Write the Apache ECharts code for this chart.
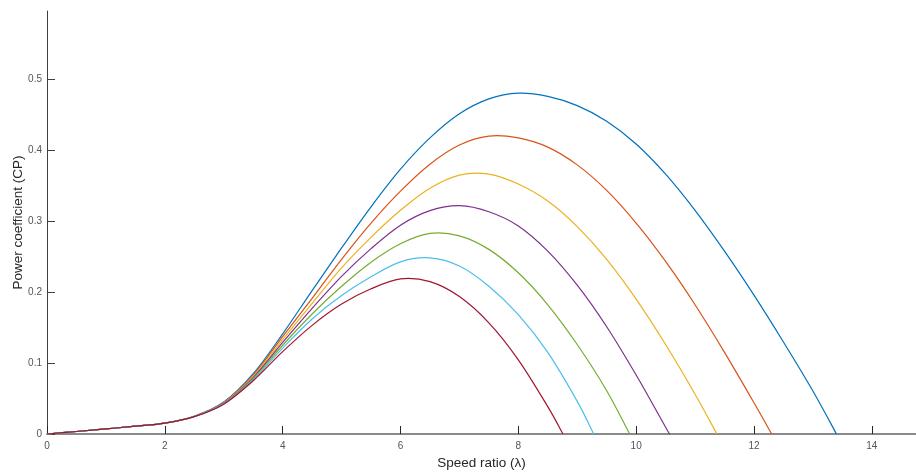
<!DOCTYPE html>
<html>
<head>
<meta charset="utf-8">
<title>Power coefficient vs speed ratio</title>
<script src="https://cdn.jsdelivr.net/npm/echarts@6/dist/echarts.min.js"></script>
<style>
  html, body { margin: 0; padding: 0; background: #fff; }
  #chart { width: 916px; height: 472px; }
</style>
</head>
<body>
<div id="chart"></div>
<script>
// speed ratio samples (lambda) shared by all curves
var speedRatio = [0, 0.5, 1, 1.5, 2, 2.5, 3, 3.5, 4, 4.5, 5, 5.5, 6, 6.5, 7, 7.5, 8, 8.5, 9, 9.5, 10, 10.5, 11, 11.5, 12, 12.5, 13];

// Cp, one array per curve (null once the curve has hit 0)
var cpCurve1 = [0, 0.0035, 0.0072, 0.011, 0.0153, 0.0250, 0.045, 0.085, 0.141, 0.202, 0.262, 0.320, 0.373, 0.417, 0.451, 0.472, 0.480, 0.4755, 0.4625, 0.4405, 0.4085, 0.366, 0.315, 0.2575, 0.1955, 0.1295, 0.0605];
var cpCurve2 = [0, 0.0035, 0.0072, 0.011, 0.0153, 0.0249, 0.0445, 0.083, 0.137, 0.191, 0.246, 0.297, 0.342, 0.380, 0.407, 0.4195, 0.417, 0.404, 0.379, 0.343, 0.297, 0.243, 0.182, 0.115, 0.044, null, null];
var cpCurve3 = [0, 0.0035, 0.0072, 0.011, 0.0153, 0.0248, 0.044, 0.081, 0.133, 0.184, 0.234, 0.277, 0.315, 0.346, 0.3645, 0.366, 0.352, 0.328, 0.292, 0.246, 0.190, 0.126, 0.056, null, null, null, null];
var cpCurve4 = [0, 0.0035, 0.0072, 0.011, 0.0153, 0.0247, 0.0435, 0.0795, 0.129, 0.177, 0.222, 0.261, 0.294, 0.3145, 0.3215, 0.313, 0.293, 0.2575, 0.2095, 0.151, 0.083, 0.0095, null, null, null, null, null];
var cpCurve5 = [0, 0.0035, 0.0072, 0.011, 0.0153, 0.0246, 0.043, 0.078, 0.125, 0.169, 0.208, 0.242, 0.268, 0.2825, 0.279, 0.260, 0.227, 0.182, 0.126, 0.061, null, null, null, null, null, null, null];
var cpCurve6 = [0, 0.0035, 0.0072, 0.011, 0.0153, 0.0245, 0.0425, 0.0765, 0.121, 0.162, 0.195, 0.2215, 0.2425, 0.248, 0.2365, 0.208, 0.168, 0.115, 0.046, null, null, null, null, null, null, null, null];
var cpCurve7 = [0, 0.0035, 0.0072, 0.011, 0.0153, 0.0244, 0.042, 0.075, 0.116, 0.153, 0.183, 0.2045, 0.2185, 0.2145, 0.1935, 0.1565, 0.1045, 0.0385, null, null, null, null, null, null, null, null, null];

// lambda where each curve comes back down to Cp = 0
var zeroCross = [13.40, 12.30, 11.37, 10.57, 9.89, 9.28, 8.757];

// tick labels
var xTicks = [0, 2, 4, 6, 8, 10, 12, 14];
var yTicks = [0, 0.1, 0.2, 0.3, 0.4, 0.5];

var curveColors = ['#0072BD', '#D95319', '#EDB120', '#7E2F8E', '#77AC30', '#4DBEEE', '#A2142F'];
var curves = [cpCurve1, cpCurve2, cpCurve3, cpCurve4, cpCurve5, cpCurve6, cpCurve7];

function toPoints(vals, end) {
    var pts = [];
    vals.forEach(function (v, i) {
        if (v !== null) pts.push([speedRatio[i], v]);
    });
    pts.push([end, 0]);
    return pts;
}

// smooth curve through the points (catmull-rom -> bezier), in pixel space from the axes
function curvePath(api, pts) {
    var p = pts.map(function (d) { return api.coord(d); });
    var d = 'M' + p[0][0] + ' ' + p[0][1];
    for (var i = 0; i < p.length - 1; i++) {
        var p0 = p[i - 1] || p[i], p1 = p[i], p2 = p[i + 1], p3 = p[i + 2] || p[i + 1];
        var c1x = p1[0] + (p2[0] - p0[0]) / 6, c1y = p1[1] + (p2[1] - p0[1]) / 6;
        var c2x = p2[0] - (p3[0] - p1[0]) / 6, c2y = p2[1] - (p3[1] - p1[1]) / 6;
        d += ' C' + c1x + ' ' + c1y + ' ' + c2x + ' ' + c2y + ' ' + p2[0] + ' ' + p2[1];
    }
    return d;
}

var series = curves.map(function (vals, k) {
    var pts = toPoints(vals, zeroCross[k]);
    return {
        type: 'custom',
        coordinateSystem: 'cartesian2d',
        data: pts,
        encode: { x: 0, y: 1 },
        z: 2 + k,
        renderItem: function (params, api) {
            if (params.dataIndex !== 0) return;
            return {
                type: 'path',
                shape: { pathData: curvePath(api, pts) },
                style: { fill: 'none', stroke: curveColors[k], lineWidth: 1.2 }
            };
        }
    };
});

var fontFam = '"Liberation Sans", Arial, Helvetica, sans-serif';

var myChart = echarts.init(document.getElementById('chart'), null, { renderer: 'canvas' });
myChart.setOption({
    animation: false,
    backgroundColor: '#ffffff',
    grid: { left: 47, right: 0, top: 11, bottom: 38, containLabel: false, outerBoundsMode: 'none' },
    xAxis: {
        type: 'value',
        min: 0,
        max: 14.75,
        interval: 2,
        name: 'Speed ratio (λ)',
        nameLocation: 'middle',
        nameGap: 22,
        nameMoveOverlap: false,
        nameTextStyle: { fontFamily: fontFam, fontSize: 13.5, color: '#262626' },
        axisLine: { show: true, onZero: false, lineStyle: { color: '#8a8a8a', width: 2 } },
        axisTick: { show: true, inside: true, length: 8, customValues: xTicks, lineStyle: { color: '#262626', width: 1 } },
        axisLabel: { customValues: xTicks, margin: 7, fontFamily: fontFam, fontSize: 10, color: '#555555' },
        splitLine: { show: false }
    },
    yAxis: {
        type: 'value',
        min: 0,
        max: 0.5957,
        interval: 0.1,
        name: 'Power coefficient (CP)',
        nameLocation: 'middle',
        nameGap: 22,
        nameRotate: 90,
        nameMoveOverlap: false,
        nameTextStyle: { fontFamily: fontFam, fontSize: 13.5, color: '#262626' },
        axisLine: { show: true, lineStyle: { color: '#404040', width: 1 } },
        axisTick: { show: true, inside: true, length: 8, customValues: yTicks, lineStyle: { color: '#404040', width: 1 } },
        axisLabel: { customValues: yTicks, margin: 5, fontFamily: fontFam, fontSize: 10, color: '#555555' },
        splitLine: { show: false }
    },
    series: series
});
</script>
</body>
</html>
